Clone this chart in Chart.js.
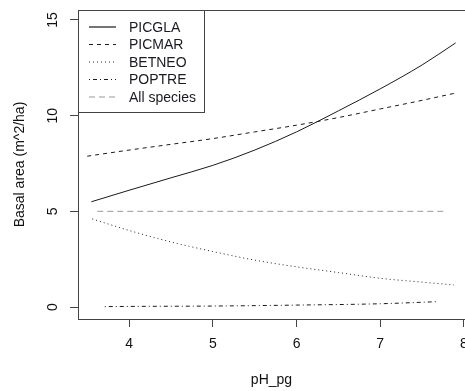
<!DOCTYPE html>
<html>
<head>
<meta charset="utf-8">
<script src="https://cdn.jsdelivr.net/npm/chart.js@4.4.1/dist/chart.umd.min.js"></script>
<style>
  html, body { margin: 0; padding: 0; background: #fff; }
  #wrap { width: 465px; height: 391px; }
</style>
</head>
<body>
<div id="wrap"><canvas id="chart" width="465" height="391"></canvas></div>
<script>
// ── Data ─────────────────────────────────────────────────
const X_TICKS = [4, 5, 6, 7, 8];
const Y_TICKS = [0, 5, 10, 15];

const PICGLA_X = [3.55, 4, 4.5, 5, 5.5, 6, 6.5, 7, 7.5, 7.9];
const PICGLA_Y = [5.5, 6.1, 6.75, 7.4, 8.2, 9.15, 10.25, 11.4, 12.65, 13.8];

const PICMAR_X = [3.5, 4, 4.5, 5, 5.5, 6, 6.5, 7, 7.5, 7.9];
const PICMAR_Y = [7.88, 8.2, 8.5, 8.8, 9.15, 9.5, 9.9, 10.35, 10.8, 11.18];

const BETNEO_X = [3.56, 4, 4.5, 5, 5.5, 6, 6.5, 7, 7.5, 7.88];
const BETNEO_Y = [4.6, 4.0, 3.4, 2.9, 2.45, 2.1, 1.8, 1.5, 1.3, 1.15];

const POPTRE_X = [3.71, 4, 5, 6, 7, 7.69];
const POPTRE_Y = [0.02, 0.03, 0.05, 0.1, 0.17, 0.28];

const ALL_X = [3.62, 7.76];
const ALL_Y = [5.0, 5.0];

const FONT = '"Liberation Sans", Arial, sans-serif';
const AXIS = '#444';

const pts = (xs, ys) => xs.map((x, i) => ({ x, y: ys[i] }));

function line(label, xs, ys, dash, color) {
  return {
    label,
    data: pts(xs, ys),
    borderColor: color,
    borderWidth: 1,
    borderDash: dash,
    pointRadius: 0,
    cubicInterpolationMode: 'monotone',
    fill: false
  };
}

const datasets = [
  line('PICGLA', PICGLA_X, PICGLA_Y, [], '#1a1a1a'),
  line('PICMAR', PICMAR_X, PICMAR_Y, [4, 4], '#1a1a1a'),
  line('BETNEO', BETNEO_X, BETNEO_Y, [1, 3], '#222'),
  line('POPTRE', POPTRE_X, POPTRE_Y, [1, 3, 4, 3], '#1a1a1a'),
  line('All species', ALL_X, ALL_Y, [6, 4], '#999')
];

// ── R-style frame, labels and legend ─────────────────────
const rFrame = {
  id: 'rFrame',
  afterDraw(chart) {
    const { ctx, chartArea: a, scales: { x, y } } = chart;
    ctx.save();
    ctx.strokeStyle = AXIS;
    ctx.lineWidth = 1;
    ctx.beginPath();
    ctx.moveTo(a.left, a.top + 0.5);
    ctx.lineTo(a.right, a.top + 0.5);
    ctx.stroke();

    ctx.fillStyle = '#111';
    ctx.font = `14px ${FONT}`;
    ctx.textAlign = 'center';
    ctx.textBaseline = 'middle';
    X_TICKS.forEach(v => ctx.fillText(String(v), x.getPixelForValue(v), 344));
    ctx.fillText('pH_pg', (a.left + a.right) / 2, 380);

    Y_TICKS.forEach(v => {
      ctx.save();
      ctx.translate(53, y.getPixelForValue(v));
      ctx.rotate(-Math.PI / 2);
      ctx.fillText(String(v), 0, 0);
      ctx.restore();
    });
    ctx.save();
    ctx.translate(20, (a.top + a.bottom) / 2);
    ctx.rotate(-Math.PI / 2);
    ctx.fillText('Basal area (m^2/ha)', 0, 0);
    ctx.restore();

    // legend
    const lx = a.left, ly = a.top, lw = 126, lh = 102;
    ctx.fillStyle = '#fff';
    ctx.fillRect(lx, ly, lw, lh);
    ctx.strokeStyle = AXIS;
    ctx.strokeRect(lx + 0.5, ly + 0.5, lw, lh);
    ctx.textAlign = 'left';
    chart.data.datasets.forEach((ds, i) => {
      const yy = 27 + i * 17.5;
      ctx.strokeStyle = ds.borderColor;
      ctx.lineWidth = 1.2;
      ctx.setLineDash(ds.borderDash);
      ctx.beginPath();
      ctx.moveTo(89, yy);
      ctx.lineTo(116, yy);
      ctx.stroke();
      ctx.setLineDash([]);
      ctx.fillStyle = '#1a1a22';
      ctx.fillText(ds.label, 129, yy + 1);
    });
    ctx.restore();
  }
};

new Chart(document.getElementById('chart'), {
  type: 'line',
  data: { datasets },
  options: {
    responsive: false,
    devicePixelRatio: 1,
    animation: false,
    layout: { padding: { top: 10, right: 0, left: 0, bottom: 0 } },
    plugins: { legend: { display: false }, tooltip: { enabled: false } },
    scales: {
      x: {
        type: 'linear',
        min: 3.39,
        max: 8.012,
        afterBuildTicks: s => { s.ticks = X_TICKS.map(value => ({ value })); },
        afterFit: s => { s.height = 72; },
        ticks: { display: false },
        grid: { drawOnChartArea: false, drawTicks: true, tickLength: 8, color: AXIS },
        border: { display: true, color: AXIS }
      },
      y: {
        type: 'linear',
        min: -0.627,
        max: 15.52,
        afterBuildTicks: s => { s.ticks = Y_TICKS.map(value => ({ value })); },
        afterFit: s => { s.width = 78; },
        ticks: { display: false },
        grid: { drawOnChartArea: false, drawTicks: true, tickLength: 8, color: AXIS },
        border: { display: true, color: AXIS }
      }
    }
  },
  plugins: [rFrame]
});
</script>
</body>
</html>
